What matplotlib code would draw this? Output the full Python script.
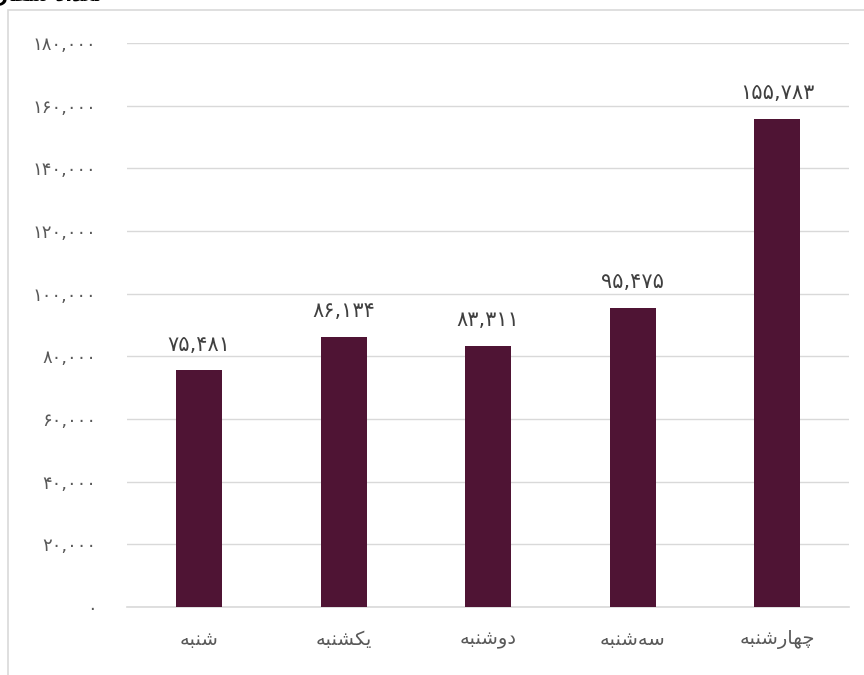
import matplotlib
matplotlib.use("Agg")
import matplotlib.pyplot as plt
from matplotlib.patches import Rectangle

# data
days = ["شنبه", "یکشنبه", "دوشنبه", "سه\u200cشنبه", "چهارشنبه"]
counts = [75481, 86134, 83311, 95475, 155783]
y_ticks = [0, 20000, 40000, 60000, 80000, 100000, 120000, 140000, 160000, 180000]
title = "تعداد سفارش‌ها"

# simple arabic/persian shaping (matplotlib does no joining)
# letter: (isolated, final, initial, medial) ; right-joining letters have only 2 forms
FORMS = {
    "ب": ("\uFE8F", "\uFE90", "\uFE91", "\uFE92"),
    "ه": ("\uFEE9", "\uFEEA", "\uFEEB", "\uFEEC"),
    "ن": ("\uFEE5", "\uFEE6", "\uFEE7", "\uFEE8"),
    "ش": ("\uFEB5", "\uFEB6", "\uFEB7", "\uFEB8"),
    "س": ("\uFEB1", "\uFEB2", "\uFEB3", "\uFEB4"),
    "ع": ("\uFEC9", "\uFECA", "\uFECB", "\uFECC"),
    "ت": ("\uFE95", "\uFE96", "\uFE97", "\uFE98"),
    "ف": ("\uFED1", "\uFED2", "\uFED3", "\uFED4"),
    "ی": ("\uFBFC", "\uFBFD", "\uFBFE", "\uFBFF"),
    "ک": ("\uFB8E", "\uFB8F", "\uFB90", "\uFB91"),
    "چ": ("\uFB7A", "\uFB7B", "\uFB7C", "\uFB7D"),
    "د": ("\uFEA9", "\uFEAA"),
    "و": ("\uFEED", "\uFEEE"),
    "ر": ("\uFEAD", "\uFEAE"),
    "ا": ("\uFE8D", "\uFE8E"),
}


def shape(word):
    chars = list(word)
    out = []
    for i, c in enumerate(chars):
        if c not in FORMS:
            if c != "\u200c":
                out.append(c)
            continue
        f = FORMS[c]
        prev = chars[i - 1] if i > 0 else None
        nxt = chars[i + 1] if i + 1 < len(chars) else None
        join_prev = prev in FORMS and len(FORMS[prev]) == 4
        join_next = nxt in FORMS and len(f) == 4
        if join_prev and join_next:
            out.append(f[3])
        elif join_prev:
            out.append(f[1])
        elif join_next:
            out.append(f[2])
        else:
            out.append(f[0])
    return "".join(reversed(out))


def fa_num(n):
    s = f"{n:,}"
    return s.translate(str.maketrans("0123456789", "۰۱۲۳۴۵۶۷۸۹"))


plt.rcParams["font.family"] = ["DejaVu Sans"]

fig = plt.figure(figsize=(8.64, 6.75), dpi=100)
ax = fig.add_axes([0.147, 0.101, 0.836, 0.835])

# outer chart border (cut off by the image edge)
fig.patches.append(Rectangle((8 / 864, -0.1), 1.2, 1 - 10.5 / 675 + 0.1,
                             transform=fig.transFigure, fill=False,
                             edgecolor="#d9d9d9", linewidth=1.2))
# title sits mostly above the picture, as in the reference
fig.text(102 / 864, 1 - 1 / 675, shape(title), ha="right", va="baseline",
         fontsize=14, fontweight="bold", color="#000000")

x = range(len(days))
ax.bar(x, counts, width=0.32, color="#4F1434", zorder=3)

for i, v in enumerate(counts):
    ax.text(i, v + 5000, fa_num(v), ha="center", va="bottom",
            fontsize=15, color="#404040")

ax.set_ylim(0, 180000)
ax.set_xlim(-0.5, len(days) - 0.5)
ax.set_yticks(y_ticks)
ax.set_yticklabels([fa_num(t) for t in y_ticks], fontsize=13, color="#595959")
ax.set_xticks(list(x))
ax.set_xticklabels([shape(d) for d in days], fontsize=14, color="#595959")
ax.tick_params(axis="both", length=0)
ax.tick_params(axis="y", pad=22)
ax.tick_params(axis="x", pad=17)

ax.grid(axis="y", color="#d9d9d9", linewidth=1, zorder=0)
for s in ["top", "right", "left"]:
    ax.spines[s].set_visible(False)
ax.spines["bottom"].set_color("#d9d9d9")
ax.spines["bottom"].set_linewidth(1.2)

fig.savefig("out.png", dpi=100)
